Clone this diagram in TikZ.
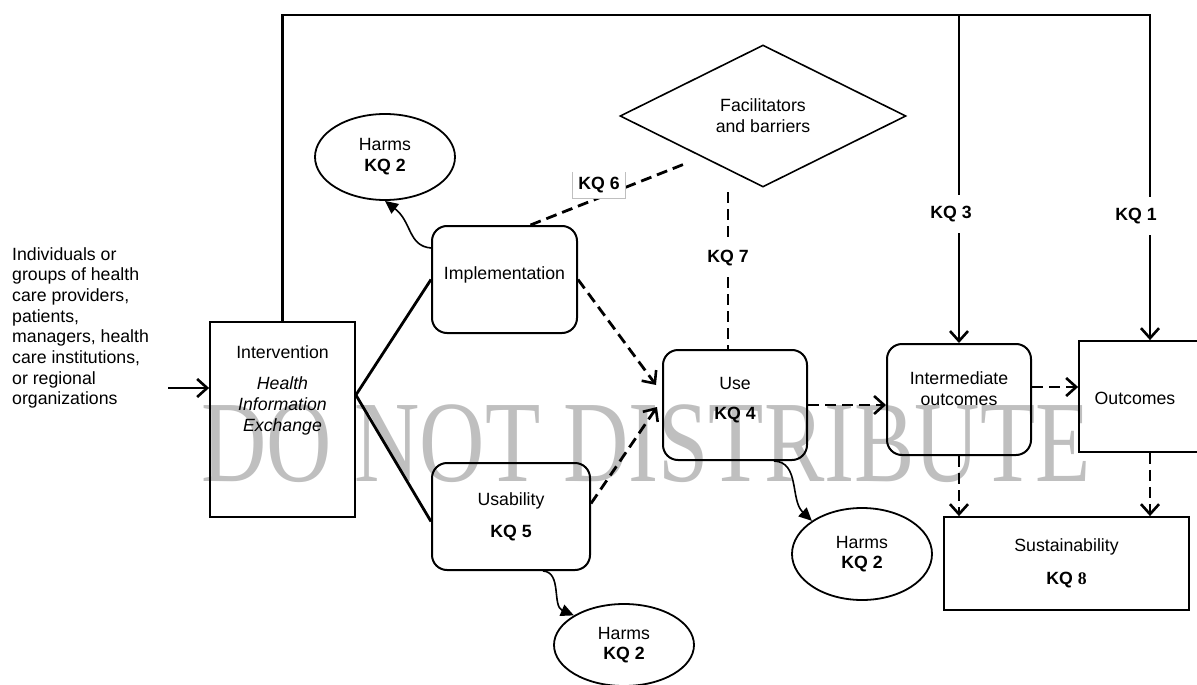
\documentclass[tikz,border=0pt]{standalone}
\usepackage{fontspec}
\usepackage{graphicx}
\setmainfont{Liberation Sans}
\newfontfamily\wmfont{Liberation Serif}
\usetikzlibrary{arrows.meta,shapes.geometric,calc}
\begin{document}
\begin{tikzpicture}[x=1pt,y=-1pt,
  every node/.style={font=\fontsize{17.7}{20.7}\selectfont, inner sep=0pt},
  rbox/.style={draw, line width=2pt, rounded corners=15pt},
  sbox/.style={draw, line width=1.8pt},
  harm/.style={draw, ellipse, line width=1.8pt, minimum width=140pt, align=center},
  conn/.style={line width=2.8pt},
  dconn/.style={line width=2.8pt, dash pattern=on 11pt off 6pt},
  barb/.style={-{Straight Barb[length=10pt,width=18pt,line width=2.6pt]}},
  curv/.style={line width=1.6pt, -{Triangle[length=13pt,width=12pt]}},
  kq/.style={font=\fontsize{17.7}{20.7}\selectfont\bfseries, fill=white, inner xsep=3pt, inner ysep=11pt}
]
\useasboundingbox (0,0) rectangle (1197,685);

% watermark
\node[anchor=base west, text=black!25, inner sep=0pt] (wm) at (201,481)
  {\scalebox{0.78}[1]{\wmfont\fontsize{116}{116}\selectfont DO NOT DISTRIBUTE}};

% left text
\node[anchor=north west, align=left] (who) at (12,247)
  {Individuals or\\groups of health\\care providers,\\patients,\\managers, health\\care institutions,\\or regional\\organizations};

% boxes
\node[sbox, minimum width=145pt, minimum height=195pt] (interv) at (282.5,419.5) {};
\node[align=center] (intervt) at (282.5,390)
  {Intervention\\[11pt]\textit{Health}\\\textit{Information}\\\textit{Exchange}};

\node[rbox, minimum width=145pt, minimum height=107pt] (impl) at (504.5,279.5) {};
\node (implt) at (504.5,275) {Implementation};

\node[rbox, minimum width=158pt, minimum height=107pt, align=center] (usab) at (511,516.5)
  {Usability\\[11pt]\textbf{KQ 5}};

\node[rbox, minimum width=144pt, minimum height=110pt] (use) at (735,405) {};
\node[align=center] (uset) at (735,400) {Use\\[10pt]\textbf{KQ 4}};

\node[rbox, minimum width=144pt, minimum height=111pt] (inter) at (959,399.5) {};
\node[align=center] (intert) at (959,389) {Intermediate\\outcomes};

\node[sbox, minimum width=142pt, minimum height=111pt] (outc) at (1150,396.5) {};
\node (outct) at (1135,398) {Outcomes};

\node[sbox, minimum width=245pt, minimum height=93pt, align=center] (sust) at (1066.5,563.5)
  {Sustainability\\[12pt]\textbf{KQ {\wmfont 8}}};

\node[draw, diamond, line width=1.6pt, minimum width=286pt, minimum height=142pt, align=center] (fac) at (763,116)
  {Facilitators\\and barriers};

% harms
\node[harm, minimum height=86pt] (h1) at (385,157) {Harms\\\textbf{KQ 2}};
\node[harm, minimum height=92pt] (h2) at (862,554) {Harms\\\textbf{KQ 2}};
\node[harm, minimum height=82pt] (h3) at (624,645) {Harms\\\textbf{KQ 2}};

% input arrow
\coordinate (in) at (168,388);
\draw[conn, barb] (in) -- ([yshift=31.5pt]interv.west);

% solid lines from intervention
\coordinate (vx) at ([yshift=24.5pt]interv.east);
\draw[conn] (vx) -- (impl.west);
\draw[conn] (vx) -- ([yshift=-5pt]usab.west);

% top feedback line
\coordinate (tl) at (282.5,15);
\coordinate (t3) at (959,15);
\coordinate (tr) at (1150,15);
\draw[conn, barb, line join=miter] (interv.north) -- (tl) -- (tr) -- (outc.north);
\draw[conn, barb] (t3) -- (inter.north);
\node[kq] (kq3) at (951,214) {KQ 3};
\node[kq] (kq1) at (1136,216) {KQ 1};

% dashed arrows
\draw[dconn, barb] (impl.east) -- ([xshift=-6pt,yshift=20pt]use.west);
\draw[dconn, barb] ([yshift=13pt]usab.east) -- ([xshift=-5pt,yshift=-2pt]use.west);
\draw[dconn, barb] (use.east) -- (use.east -| inter.west);
\draw[dconn, barb] ([yshift=12.5pt]inter.east) -- ([yshift=12.5pt]inter.east -| outc.west);
\draw[dconn, barb] (inter.south) -- (inter.south |- sust.north);
\draw[dconn, barb] (outc.south) -- (outc.south |- sust.north);

% KQ 7
\coordinate (k7top) at (728,192);
\draw[dconn] (k7top) -- (use.north -| k7top);
\node[kq] (kq7) at (728,258) {KQ 7};

% KQ 6
\coordinate (k6end) at (687,163);
\draw[dconn] ([xshift=26pt]impl.north) -- (k6end);
\node[font=\fontsize{17.7}{20.7}\selectfont\bfseries, fill=white, minimum width=52pt, minimum height=26pt] (kq6) at (599,185) {KQ 6};
\draw[black!25, line width=0.8pt] (kq6.north west) |- (kq6.south east) -- (kq6.north east);

% curvy harm arrows
\draw[curv] ([yshift=31.5pt]impl.west) .. controls (408,246) and (412,222) .. (h1.south);
\draw[curv] ([xshift=39pt]use.south) .. controls (800,462) and (790,500) .. (h2.north west);
\draw[curv] ([xshift=32pt]usab.south) .. controls (562,572) and (552,606) .. (h3.north west);
\end{tikzpicture}
\end{document}
